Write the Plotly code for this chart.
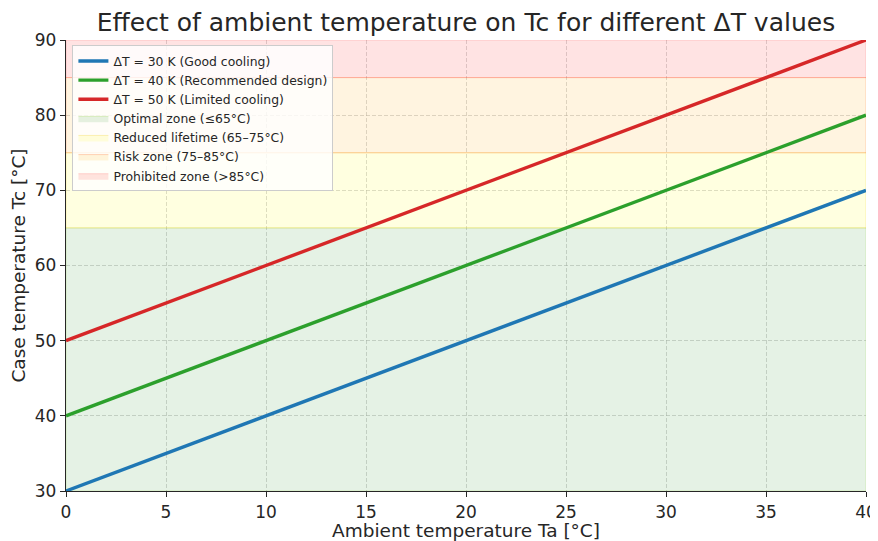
import plotly.graph_objects as go

ta = [0, 40]
delta_t = [30, 40, 50]
line_names = ["ΔT = 30 K (Good cooling)", "ΔT = 40 K (Recommended design)", "ΔT = 50 K (Limited cooling)"]
line_colors = ["#1f77b4", "#2ca02c", "#d62728"]

zone_names = ["Optimal zone (≤65°C)", "Reduced lifetime (65–75°C)", "Risk zone (75–85°C)", "Prohibited zone (>85°C)"]
zone_low = [30, 65, 75, 85]
zone_high = [65, 75, 85, 90]
zone_fill = ["rgba(0,128,0,0.1)", "rgba(255,255,0,0.12)", "rgba(255,165,0,0.12)", "rgba(255,0,0,0.11)"]
zone_edge = ["rgba(120,200,0,0.2)", "rgba(240,200,0,0.25)", "rgba(255,120,60,0.3)", "rgba(255,0,0,0.15)"]

fig = go.Figure()

for name, lo, hi, fc, ec in zip(zone_names, zone_low, zone_high, zone_fill, zone_edge):
    fig.add_trace(go.Scatter(
        x=[ta[0], ta[1], ta[1], ta[0], ta[0]],
        y=[lo, lo, hi, hi, lo],
        fill="toself", fillcolor=fc, mode="lines",
        line=dict(color=ec, width=1),
        name=name, legendrank=10 + zone_names.index(name),
        hoverinfo="skip",
    ))

for name, dt, c in zip(line_names, delta_t, line_colors):
    fig.add_trace(go.Scatter(
        x=ta, y=[t + dt for t in ta], mode="lines",
        line=dict(color=c, width=3.4), name=name,
        legendrank=line_names.index(name) + 1,
    ))

axis_common = dict(
    showgrid=True, gridcolor="rgba(170,170,170,0.45)", griddash="4px,2px", gridwidth=1,
    zeroline=False, showline=True, linecolor="#262626", linewidth=1.3,
    ticks="outside", ticklen=5, tickcolor="#262626", tickwidth=1.2,
    tickfont=dict(size=17), automargin=False,
)

fig.update_layout(
    width=870, height=533,
    margin=dict(l=58, r=12, t=32, b=50),
    paper_bgcolor="white", plot_bgcolor="white",
    font=dict(family="DejaVu Sans", color="#262626"),
    title=dict(text="Effect of ambient temperature on Tc for different ΔT values",
               xref="paper", x=0.5, xanchor="center", y=0.974, yanchor="middle",
               font=dict(size=25, color="#262626")),
    xaxis=dict(range=[0, 40], dtick=5, **axis_common,
               title=dict(text="Ambient temperature Ta [°C]", font=dict(size=18.5), standoff=1)),
    yaxis=dict(range=[30, 90], dtick=10, **axis_common,
               title=dict(text="Case temperature Tc [°C]", font=dict(size=18.5), standoff=4)),
    legend=dict(x=0.008, y=0.988, xanchor="left", yanchor="top",
                bgcolor="rgba(255,255,255,0.8)", bordercolor="#cccccc", borderwidth=1,
                font=dict(size=12.4), tracegroupgap=0, itemwidth=30,
                traceorder="normal"),
    showlegend=True,
)

fig.write_html("out.html")
